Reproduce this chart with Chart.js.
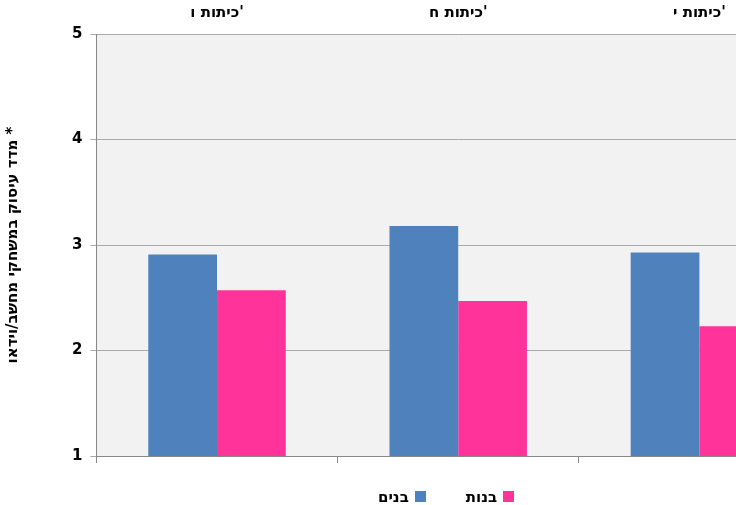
<!DOCTYPE html>
<html><head><meta charset="utf-8">
<script src="https://cdn.jsdelivr.net/npm/chart.js@4/dist/chart.umd.min.js"></script>
<style>
html,body{margin:0;padding:0;background:#fff;overflow:hidden;width:736px;height:505px}
#wrap{position:absolute;left:0;top:0;width:820px;height:505px}
#legend{position:absolute;top:488px;left:378px;font:bold 15px "DejaVu Sans";direction:rtl;display:flex;gap:40px}
#legend span.b{display:inline-block;width:11px;height:11px;margin-left:6px}
</style></head><body>
<div id="wrap"><canvas id="c" width="820" height="505"></canvas></div>
<div id="legend"><div><span class="b" style="background:#ff3399"></span>בנות</div><div><span class="b" style="background:#4f81bd"></span>בנים</div></div>
<script>
const categories=["כיתות ו'","כיתות ח'","כיתות י'"];
const boys=[2.91,3.18,2.93];
const girls=[2.57,2.47,2.23];
const yTicks=[1,2,3,4,5];
const F={family:'"DejaVu Sans"',size:15,weight:'bold'};
const bg={id:'bg',beforeDraw(c){const a=c.chartArea,x=c.ctx;x.save();x.fillStyle='#f2f2f2';x.fillRect(a.left,a.top,a.right-a.left,a.bottom-a.top);x.restore();}};
new Chart(document.getElementById('c'),{type:'bar',
data:{labels:categories,datasets:[
{label:'בנים',data:boys,backgroundColor:'#4f81bd',categoryPercentage:0.57,barPercentage:1},
{label:'בנות',data:girls,backgroundColor:'#ff3399',categoryPercentage:0.57,barPercentage:1}]},
options:{responsive:false,animation:false,devicePixelRatio:1,
layout:{padding:{top:0,bottom:42,right:0,left:0}},
plugins:{legend:{display:false},tooltip:{enabled:false}},
scales:{
x:{position:'bottom',grid:{offset:true,drawOnChartArea:false,tickLength:7,color:'#888'},border:{color:'#888'},ticks:{display:false}},
x2:{position:'top',type:'category',labels:categories,grid:{display:false},border:{display:false},ticks:{font:F,color:'#000',padding:4}},
y:{min:1,max:5,afterBuildTicks(s){s.ticks=yTicks.map(v=>({value:v}));},
grid:{color:'#aaa',tickLength:6,borderDash:[3,3]},border:{color:'#888'},
ticks:{font:F,color:'#000',padding:8},
title:{display:true,text:'מדד עיסוק במשחקי מחשב/וידאו *',font:F,color:'#000',padding:{bottom:42}}}}},
plugins:[bg]});
</script></body></html>
